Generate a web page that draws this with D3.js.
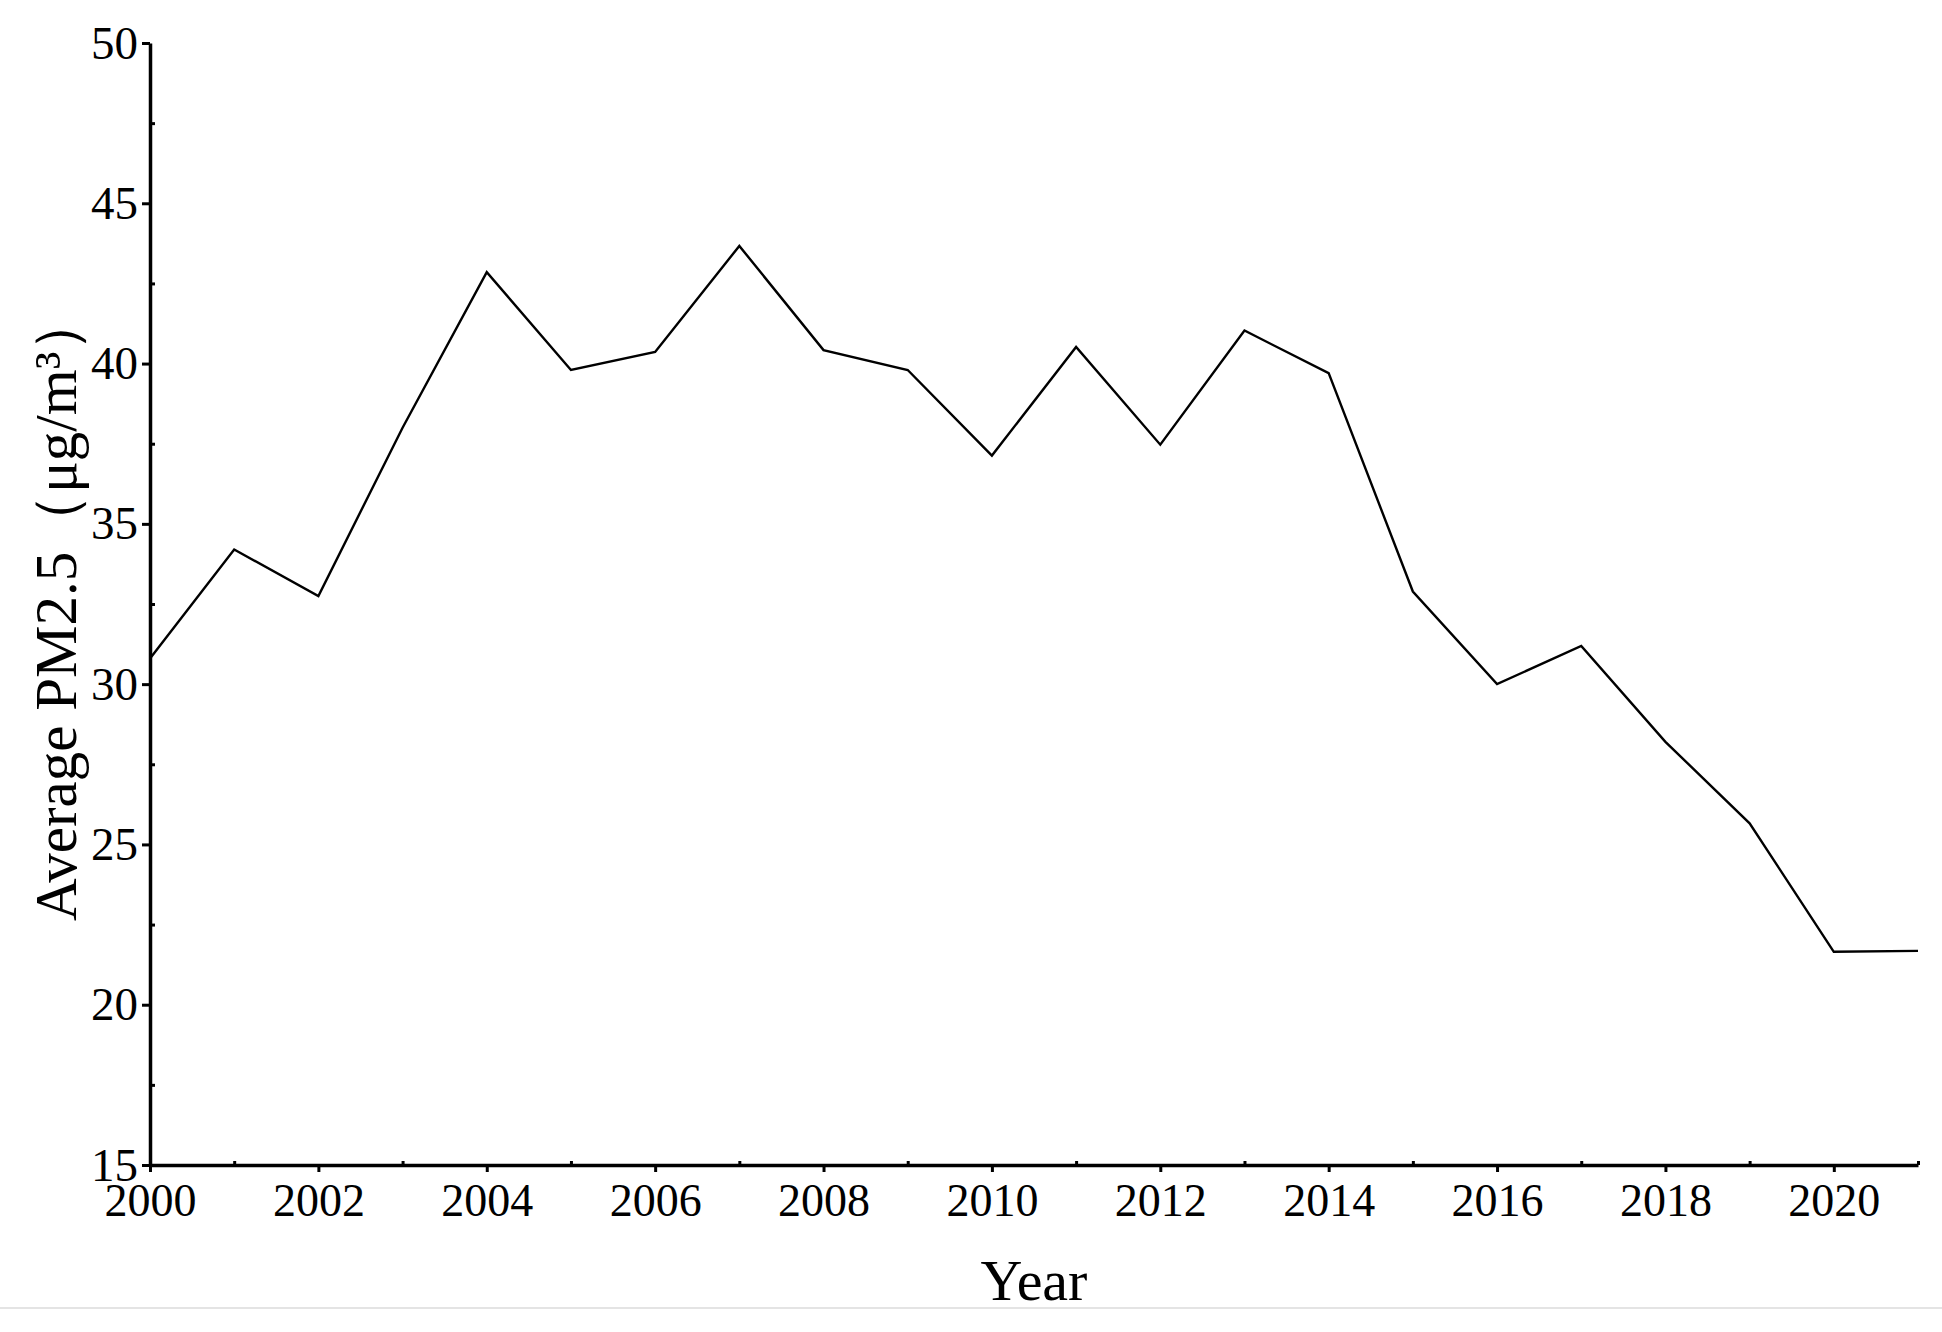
<!DOCTYPE html>
<html>
<head>
<meta charset="utf-8">
<script src="https://cdn.jsdelivr.net/npm/d3@7"></script>
<style>
  html, body { margin: 0; padding: 0; background: #fff; }
  svg { display: block; }
  text { font-family: "Liberation Serif", "Times New Roman", serif; fill: #000; }
</style>
</head>
<body>
<svg id="chart" width="1942" height="1332"></svg>
<script>
const years = [2000,2001,2002,2003,2004,2005,2006,2007,2008,2009,2010,2011,2012,2013,2014,2015,2016,2017,2018,2019,2020,2021];
const pm25 = [30.8,34.2,32.75,38.0,42.85,39.8,40.36,43.67,40.42,39.8,37.13,40.52,37.47,41.03,39.7,32.89,30.0,31.19,28.2,25.66,21.65,21.68];
const xMajorTicks = [2000,2002,2004,2006,2008,2010,2012,2014,2016,2018,2020];
const xMinorTicks = [2001,2003,2005,2007,2009,2011,2013,2015,2017,2019,2021];
const yMajorTicks = [15,20,25,30,35,40,45,50];
const yMinorTicks = [17.5,22.5,27.5,32.5,37.5,42.5,47.5];
const xTitle = "Year";
const yTitle = "Average PM2.5（μg/m³）";

(function () {
const svg = d3.select("#chart");
const mLeft = 150, mRight = 1918, mTop = 43, mBottom = 1165;

const x = d3.scaleLinear().domain([2000, 2021]).range([mLeft, mRight]);
const y = d3.scaleLinear().domain([15, 50]).range([mBottom, mTop]);

// faint separator line near bottom
svg.append("line")
  .attr("x1", 0).attr("x2", 1942).attr("y1", 1308).attr("y2", 1308)
  .attr("stroke", "#e4e4e4").attr("stroke-width", 2);

// line
const line = d3.line().x((d, i) => x(years[i])).y(d => y(d));
svg.append("path")
  .datum(pm25)
  .attr("d", line)
  .attr("fill", "none")
  .attr("stroke", "#000")
  .attr("stroke-width", 2.4)
  .attr("stroke-linejoin", "miter");

// X minor ticks (inward)
svg.append("g")
  .attr("transform", `translate(0,${mBottom})`)
  .call(d3.axisBottom(x).tickValues(xMinorTicks).tickSize(-4).tickSizeOuter(0).tickFormat(""))
  .call(g => g.select(".domain").remove())
  .call(g => g.selectAll("line").attr("stroke", "#000").attr("stroke-width", 3));

// Y minor ticks (inward)
svg.append("g")
  .attr("transform", `translate(${mLeft},0)`)
  .call(d3.axisLeft(y).tickValues(yMinorTicks).tickSize(-5).tickSizeOuter(0).tickFormat(""))
  .call(g => g.select(".domain").remove())
  .call(g => g.selectAll("line").attr("stroke", "#000").attr("stroke-width", 3));

// X major axis
const xAxis = svg.append("g")
  .attr("transform", `translate(0,${mBottom})`)
  .call(d3.axisBottom(x).tickValues(xMajorTicks).tickSize(7).tickSizeOuter(0).tickPadding(11).tickFormat(d3.format("d")));
xAxis.select(".domain").attr("stroke", "#000").attr("stroke-width", 3.5);
xAxis.selectAll("line").attr("stroke", "#000").attr("stroke-width", 3);
xAxis.selectAll("text")
  .attr("font-family", "Liberation Serif")
  .attr("font-size", 46)
  .attr("fill", "#000");

// Y major axis
const yAxis = svg.append("g")
  .attr("transform", `translate(${mLeft},0)`)
  .call(d3.axisLeft(y).tickValues(yMajorTicks).tickSize(8).tickSizeOuter(0).tickPadding(4).tickFormat(d3.format("d")));
yAxis.select(".domain").attr("stroke", "#000").attr("stroke-width", 3.5);
yAxis.selectAll("line").attr("stroke", "#000").attr("stroke-width", 3);
yAxis.selectAll("text")
  .attr("font-family", "Liberation Serif")
  .attr("font-size", 47)
  .attr("fill", "#000");

// Axis titles
svg.append("text")
  .attr("x", (mLeft + mRight) / 2)
  .attr("y", 1300)
  .attr("text-anchor", "middle")
  .attr("font-size", 58)
  .text(xTitle);

svg.append("text")
  .attr("transform", `translate(76,921) rotate(-90)`)
  .attr("text-anchor", "start")
  .attr("font-size", 59)
  .text(yTitle);
})();
</script>
</body>
</html>
